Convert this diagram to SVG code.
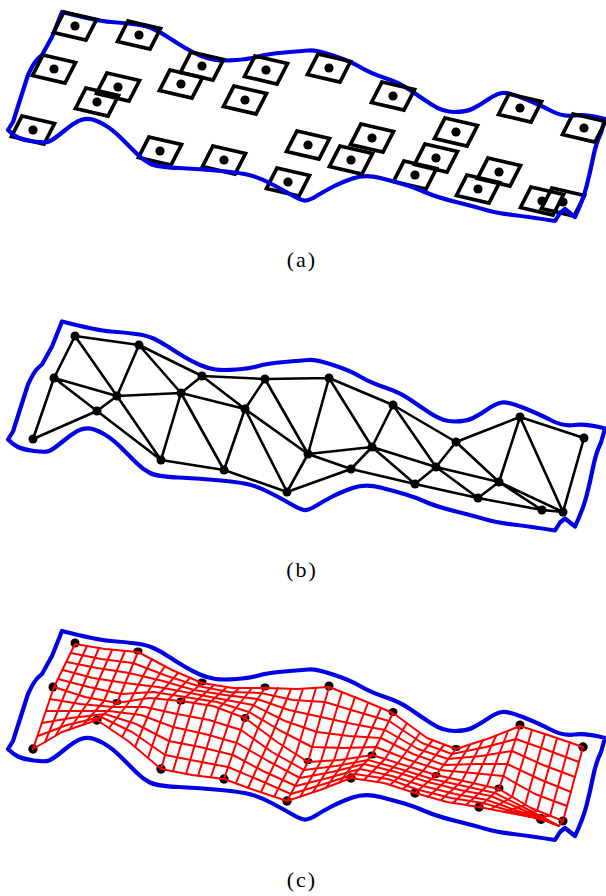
<svg xmlns="http://www.w3.org/2000/svg" width="606" height="896" viewBox="0 0 606 896">
<style>
.outline{fill:none;stroke:#0000e6;stroke-width:4.2;stroke-linejoin:round;stroke-linecap:round}
.sq{fill:none;stroke:#000;stroke-width:3.7;stroke-linejoin:miter}
.dot{fill:#000}
.edge{fill:none;stroke:#000;stroke-width:2.6;stroke-linecap:round}
.mesh{fill:none;stroke:#f00;stroke-width:2;stroke-linejoin:round;stroke-linecap:round}
.lab{font-family:"Liberation Serif","Times New Roman",serif;font-size:22px;letter-spacing:2px;fill:#000;text-anchor:middle}
</style>
<defs>
<path id="bnd" class="outline" d="M62,12 Q97,21 111,22 Q125,23 136,24.5 Q147,26 153.5,29 Q160,32 168.5,37.5 Q177,43 184.5,47.5 Q192,52 200,55.5 Q208,59 215.5,60 Q223,61 236.5,60 Q250,59 258.5,56.5 Q267,54 284.5,52.5 Q302,51 309,50.5 Q316,50 333,55.5 Q350,61 360,67 Q370,73 385,78 Q400,83 410,90 Q420,97 431.5,104.5 Q443,112 454.5,112 Q466,112 473,108.5 Q480,105 488,99.5 Q496,94 502,93 Q508,92 524,98.5 Q540,105 551.5,111 Q563,117 574.5,115.5 Q586,114 605,119 L601,133 Q596,143 593,158 Q590,173 586.5,186.5 Q583,200 575,217 L565,209 L560,213 L555,221 Q530,217 513,215 Q496,213 486,210 Q476,207 456,202 Q436,197 426,192.5 Q416,188 406,185 Q396,182 380.5,178 Q365,174 352.5,178.5 Q340,183 331.5,187.5 Q323,192 316.5,196 Q310,200 306,200.5 Q302,201 292.5,195.5 Q283,190 271.5,184 Q260,178 251,175.5 Q242,173 221,171 Q200,169 178.5,168 Q157,167 150,163.5 Q143,160 136.5,153.5 Q130,147 121.5,138.5 Q113,130 105.5,125.5 Q98,121 92.5,119.5 Q87,118 81,120 Q75,122 64,131 Q53,140 49,141.5 Q45,143 34,141.5 Q23,140 18,137.5 Q13,135 8,130 L13,122 L20,100 L28,75 Q34,62 38,58.5 L42,55 L52,37 Z"/>
<g id="mark"><polygon class="sq" points="-11,-14 21.5,-6.5 11,14 -21.5,6.5"/><circle class="dot" r="4.6"/></g>
</defs>

<g id="panel-a">
<g id="a-lower-marks">
<use id="a33" href="#mark" x="33" y="130"/><use id="a160" href="#mark" x="160" y="151"/><use id="a224" href="#mark" x="224" y="160"/><use id="a288" href="#mark" x="288" y="182"/><use id="a415" href="#mark" x="415" y="175"/><use id="a478" href="#mark" x="478" y="189"/><use id="a542" href="#mark" x="542" y="201"/><use id="a563" href="#mark" x="563" y="202"/>
</g>
<use id="a-boundary" href="#bnd"/>
<g id="a-upper-marks">
<use id="a75" href="#mark" x="75" y="26"/><use id="a139" href="#mark" x="139" y="35"/><use id="a202" href="#mark" x="202" y="66"/><use id="a266" href="#mark" x="266" y="70"/><use id="a54" href="#mark" x="54" y="69"/><use id="a118" href="#mark" x="118" y="87"/><use id="a97" href="#mark" x="97" y="102"/><use id="a181" href="#mark" x="181" y="84"/><use id="a245" href="#mark" x="245" y="100"/><use id="a329" href="#mark" x="329" y="68"/><use id="a393" href="#mark" x="393" y="96"/><use id="a456" href="#mark" x="456" y="132"/><use id="a520" href="#mark" x="520" y="108"/><use id="a584" href="#mark" x="584" y="128"/><use id="a308" href="#mark" x="308" y="145"/><use id="a372" href="#mark" x="372" y="138"/><use id="a351" href="#mark" x="351" y="160"/><use id="a436" href="#mark" x="436" y="158"/><use id="a499" href="#mark" x="499" y="172"/>
</g>
<text class="lab" x="302" y="267">(a)</text>
</g>

<g id="panel-b">
<use id="b-boundary" href="#bnd" y="309.5"/>
<g id="b-connectors">
<path class="edge" d="M75,336L139,345M75,336L54,378M75,336L117,396M139,345L117,396M139,345L181,393M139,345L202,376M202,376L181,393M202,376L265,379M202,376L245,409M265,379L245,409M265,379L308,454M265,379L329,378M54,378L117,396M54,378L97,411M54,378L33,439M33,439L97,411M97,411L117,396M97,411L161,460M117,396L161,460M117,396L181,393M181,393L161,460M181,393L245,409M181,393L224,470M245,409L224,470M245,409L287,492M245,409L308,454M161,460L224,470M224,470L287,492M287,492L308,454M287,492L351,469M329,378L308,454M329,378L393,405M329,378L372,447M393,405L372,447M393,405L456,442M393,405L436,467M308,454L372,447M308,454L351,469M351,469L372,447M351,469L415,484M372,447L436,467M372,447L415,484M436,467L415,484M436,467L456,442M436,467L478,498M436,467L499,482M456,442L499,482M456,442L520,417M520,417L499,482M520,417L563,512M520,417L584,438M584,438L563,512M415,484L478,498M478,498L499,482M478,498L542,510M499,482L542,510M499,482L563,512M542,510L563,512"/>
</g>
<g id="b-nodes">
<circle id="bA" class="dot" cx="75" cy="336" r="4.5"/><circle id="bB" class="dot" cx="139" cy="345" r="4.5"/><circle id="bC" class="dot" cx="202" cy="376" r="4.5"/><circle id="bD" class="dot" cx="265" cy="379" r="4.5"/><circle id="bE" class="dot" cx="329" cy="378" r="4.5"/><circle id="bF" class="dot" cx="393" cy="405" r="4.5"/><circle id="bG" class="dot" cx="54" cy="378" r="4.5"/><circle id="bH" class="dot" cx="117" cy="396" r="4.5"/><circle id="bI" class="dot" cx="97" cy="411" r="4.5"/><circle id="bJ" class="dot" cx="181" cy="393" r="4.5"/><circle id="bK" class="dot" cx="245" cy="409" r="4.5"/><circle id="bL" class="dot" cx="33" cy="439" r="4.5"/><circle id="bM" class="dot" cx="161" cy="460" r="4.5"/><circle id="bN" class="dot" cx="224" cy="470" r="4.5"/><circle id="bO" class="dot" cx="287" cy="492" r="4.5"/><circle id="bP" class="dot" cx="308" cy="454" r="4.5"/><circle id="bQ" class="dot" cx="372" cy="447" r="4.5"/><circle id="bR" class="dot" cx="351" cy="469" r="4.5"/><circle id="bS" class="dot" cx="456" cy="442" r="4.5"/><circle id="bT" class="dot" cx="436" cy="467" r="4.5"/><circle id="bU" class="dot" cx="415" cy="484" r="4.5"/><circle id="bV" class="dot" cx="520" cy="417" r="4.5"/><circle id="bW" class="dot" cx="499" cy="482" r="4.5"/><circle id="bX" class="dot" cx="478" cy="498" r="4.5"/><circle id="bY" class="dot" cx="584" cy="438" r="4.5"/><circle id="bZ" class="dot" cx="542" cy="510" r="4.5"/><circle id="bAA" class="dot" cx="563" cy="512" r="4.5"/>
</g>
<text class="lab" x="302" y="577">(b)</text>
</g>

<g id="panel-c">
<use id="c-boundary" href="#bnd" y="619"/>
<g id="c-nodes">
<ellipse class="dot" cx="75" cy="643" rx="4.5" ry="4.5"/><ellipse class="dot" cx="138" cy="651" rx="4.5" ry="3.5"/><ellipse class="dot" cx="202" cy="682" rx="4.5" ry="3.5"/><ellipse class="dot" cx="265" cy="687" rx="4.5" ry="3.5"/><ellipse class="dot" cx="329" cy="686" rx="4.5" ry="4.5"/><ellipse class="dot" cx="393" cy="712" rx="4.5" ry="4"/><ellipse class="dot" cx="53" cy="687" rx="4.5" ry="4.5"/><ellipse class="dot" cx="117" cy="702" rx="4.5" ry="3"/><ellipse class="dot" cx="97" cy="720" rx="4.7" ry="4.7"/><ellipse class="dot" cx="181" cy="701" rx="4.5" ry="3.5"/><ellipse class="dot" cx="245" cy="718" rx="4.5" ry="4"/><ellipse class="dot" cx="33" cy="749" rx="4.7" ry="4.7"/><ellipse class="dot" cx="161" cy="769" rx="4.7" ry="4.7"/><ellipse class="dot" cx="224" cy="779" rx="4.7" ry="4.7"/><ellipse class="dot" cx="287" cy="801" rx="4.7" ry="4.7"/><ellipse class="dot" cx="308" cy="761" rx="4.5" ry="3"/><ellipse class="dot" cx="372" cy="755" rx="4.5" ry="3.5"/><ellipse class="dot" cx="351" cy="778" rx="4.7" ry="4.7"/><ellipse class="dot" cx="456" cy="748" rx="4.5" ry="3"/><ellipse class="dot" cx="436" cy="775" rx="4.5" ry="3"/><ellipse class="dot" cx="415" cy="793" rx="4.7" ry="4.7"/><ellipse class="dot" cx="520" cy="725" rx="4.5" ry="4.5"/><ellipse class="dot" cx="499" cy="788" rx="4.5" ry="3.5"/><ellipse class="dot" cx="479" cy="807" rx="4.7" ry="4.7"/><ellipse class="dot" cx="583" cy="747" rx="4.7" ry="4.7"/><ellipse class="dot" cx="541" cy="819" rx="5" ry="5"/><ellipse class="dot" cx="563" cy="821" rx="4.5" ry="4.5"/>
</g>
<g id="c-connectors">
<path class="mesh" d="M75,644L105,649L138,652L172,670L202,683L233,688L265,688L297,689L329,687L362,700L393,713L427,738L456,749L490,738L520,726L551,736L583,747
M71,653L101,659L133,663L167,676L198,686L229,692L261,693L293,700L325,702L358,712L389,721L422,743L452,754L486,747L516,739L547,750L579,762
M67,662L97,668L129,673L163,681L194,690L225,695L257,699L289,710L321,717L353,724L385,730L418,749L448,759L481,756L512,751L543,765L575,777
M63,670L93,678L125,683L158,687L190,693L221,699L253,705L285,721L317,732L349,736L381,738L413,754L444,765L477,764L507,764L539,779L571,792
M58,679L89,687L121,694L154,692L185,697L217,702L249,712L281,731L312,747L344,748L376,747L409,760L440,770L472,773L503,776L535,794L567,806
M54,687L85,697L117,703L149,698L181,701L213,706L245,718L277,742L308,762L340,760L372,755L404,765L436,775L468,782L499,789L531,808L563,821
M50,699L80,704L113,707L145,707L177,714L209,720L241,730L272,752L304,770L336,766L368,760L400,769L432,779L464,786L495,793L527,809L559,826
M46,711L76,711L109,711L141,715L173,727L205,734L237,743L268,761L300,778L332,772L364,764L396,772L428,782L460,790L491,796L523,810L554,824
M42,723L71,718L105,714L136,724L169,741L200,747L233,755L263,771L296,786L328,778L360,769L392,776L423,786L455,794L487,800L518,811L550,822
M38,736L67,725L101,717L132,732L165,755L196,761L228,767L259,780L291,794L324,784L355,774L388,779L419,790L451,798L483,803L514,812L545,821
M33,749L62,732L97,720L128,741L161,769L192,775L224,779L254,790L287,801L320,790L351,778L384,783L415,793L447,802L479,807L510,813L541,819"/>
<path class="mesh" d="M75,644L54,687L33,749M87,646L66,691L45,742M99,648L79,695L56,735M112,650L91,698L69,730M125,651L104,701L83,725M138,652L117,703L97,720M152,659L130,701L109,728M165,666L143,699L122,737M178,673L155,699L135,747M190,678L168,700L148,758M202,683L181,701L161,769M214,685L194,703L173,771M227,687L207,705L186,774M239,688L219,708L198,776M252,688L232,713L211,777M265,688L245,718L224,779M278,688L258,728L236,783M291,689L271,737L248,788M303,689L283,746L261,792M316,688L296,754L274,797M329,687L308,762L287,801M342,692L321,761L300,797M355,697L334,760L313,792M368,703L346,759L326,788M381,708L359,757L339,783M393,713L372,755L351,778M407,723L385,759L364,780M420,733L398,763L377,782M433,740L410,767L390,785M444,745L423,771L403,789M456,749L436,775L415,793M470,745L449,778L428,797M483,740L462,781L441,800M496,736L474,783L453,803M508,731L487,786L466,805M520,726L499,789L479,807M532,730L512,797L491,809M545,734L525,805L504,812M557,738L537,811L516,814M570,742L550,816L529,817M583,747L563,821L559,826L541,819"/>
</g>
<text class="lab" x="302" y="887">(c)</text>
</g>
</svg>
